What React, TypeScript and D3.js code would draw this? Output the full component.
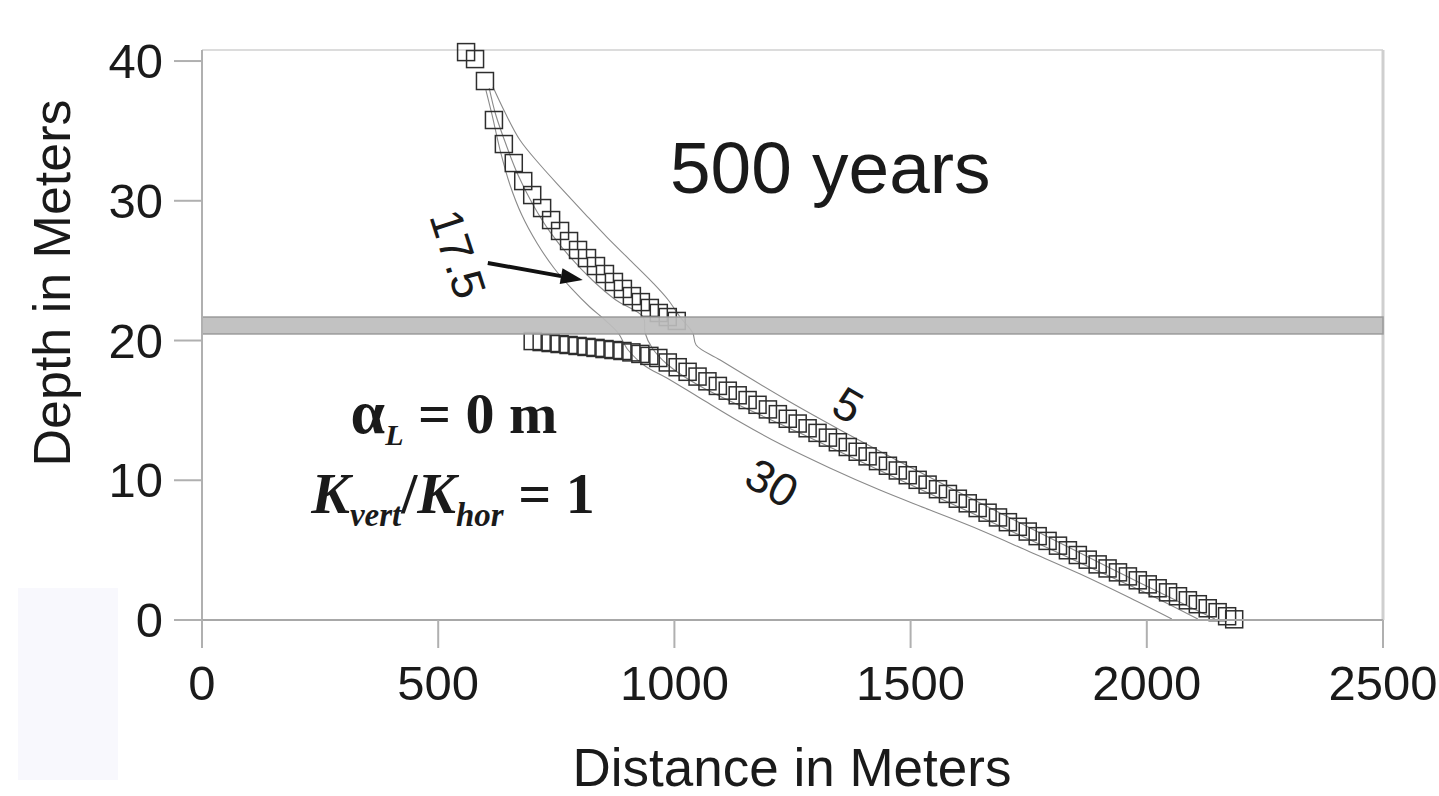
import React from "react";
import * as d3 from "d3";

// ---------- data ----------
const xTicks = [0, 500, 1000, 1500, 2000, 2500];
const yTicks = [0, 10, 20, 30, 40];

// squares above the low-K layer
const upperDistance = [559, 578, 599, 618, 639, 660, 680, 699, 720, 739, 758, 777, 796, 815, 834, 853, 872, 891, 910, 929, 948, 967, 986, 1005];
const upperDepth = [40.64, 40.14, 38.57, 35.78, 34.06, 32.7, 31.41, 30.41, 29.48, 28.62, 27.84, 27.12, 26.48, 25.9, 25.33, 24.76, 24.19, 23.69, 23.18, 22.75, 22.33, 21.97, 21.68, 21.4];

// squares below the layer
const lowerDistance = [700, 719, 738, 757, 776, 795, 814, 833, 852, 871, 890, 909, 928, 947, 966,
  986, 1007, 1028, 1049, 1070, 1092, 1113, 1134, 1155, 1176, 1198, 1219, 1240, 1261, 1282, 1303, 1325, 1346, 1367, 1388, 1409, 1431, 1452, 1473, 1494, 1515, 1536, 1558, 1579, 1600, 1621, 1642, 1663, 1685, 1706, 1727, 1748, 1769, 1790, 1812, 1833, 1854, 1875, 1896, 1917, 1939, 1960, 1981, 2002, 2023, 2045, 2066, 2087, 2108, 2129, 2150, 2170, 2185];
const lowerDepth = [19.96, 19.89, 19.82, 19.75, 19.68, 19.61, 19.54, 19.47, 19.39, 19.32, 19.25, 19.15, 19.04, 18.9, 18.75,
  18.43, 18.09, 17.76, 17.42, 17.08, 16.75, 16.41, 16.08, 15.74, 15.4, 15.07, 14.73, 14.4, 14.06, 13.72, 13.39, 13.05, 12.72, 12.38, 12.04, 11.71, 11.37, 11.04, 10.7, 10.36, 10.03, 9.69, 9.36, 9.02, 8.68, 8.35, 8.01, 7.68, 7.34, 7.0, 6.67, 6.33, 6.0, 5.66, 5.32, 4.99, 4.65, 4.32, 3.98, 3.69, 3.41, 3.12, 2.84, 2.55, 2.27, 1.98, 1.7, 1.41, 1.13, 0.84, 0.56, 0.27, 0.05];

// thin flowlines
const line30Distance = [601, 614, 631, 652, 677, 709, 745, 783, 821, 853, 881, 902, 938, 984, 1054, 1139, 1224, 1329, 1435, 1541, 1647, 1753, 1859, 1965, 2053];
const line30Depth = [37.92, 36.14, 33.63, 31.13, 28.98, 26.98, 25.19, 23.69, 22.4, 21.47, 20.54, 19.32, 18.18, 17.32, 15.89, 14.17, 12.59, 10.88, 9.3, 7.87, 6.44, 4.87, 3.29, 1.57, 0.07];

const lineMidDistance = [608, 622, 644, 669, 701, 737, 779, 826, 876, 934, 938, 953, 984, 1054, 1266, 1478, 1689, 1901, 2007, 2108];
const lineMidDepth = [38.07, 36.14, 33.99, 31.84, 29.7, 27.76, 25.98, 24.33, 22.9, 21.68, 20.54, 19.46, 18.32, 16.74, 13.38, 10.02, 6.73, 3.43, 1.79, 0.07];

const line5Distance = [616, 641, 673, 716, 764, 811, 857, 906, 955, 987, 1012, 1039, 1046, 1097, 1245, 1351, 1478, 1605, 1732, 1859, 1986, 2144];
const line5Depth = [38.14, 36.35, 34.35, 32.56, 30.77, 29.05, 27.4, 25.76, 24.11, 22.9, 21.68, 20.54, 19.68, 18.6, 15.6, 13.6, 11.31, 9.09, 6.94, 4.79, 2.65, 0.07];

const layerDepth = [20.47, 21.68];

export default function App() {
  const W = 1439;
  const H = 796;
  const x = d3.scaleLinear().domain([0, 2500]).range([202, 1383]);
  const y = d3.scaleLinear().domain([0, 40.79]).range([620, 50]);

  const mk = (ds: number[], zs: number[]) => ds.map((d, i) => [d, zs[i]] as [number, number]);
  const lineGen = d3
    .line<[number, number]>()
    .x((p) => x(p[0]))
    .y((p) => y(p[1]))
    .curve(d3.curveCatmullRom.alpha(0.5));

  const flowlines = [
    mk(line30Distance, line30Depth),
    mk(lineMidDistance, lineMidDepth),
    mk(line5Distance, line5Depth),
  ];
  const squares = [...mk(upperDistance, upperDepth), ...mk(lowerDistance, lowerDepth)];
  const S = 17;

  const sans = "'Liberation Sans', Arial, Helvetica, sans-serif";
  const serif = "'Liberation Serif', 'Times New Roman', Times, serif";

  // annotation anchors (data units)
  const arrowFrom: [number, number] = [605, 25.55];
  const arrowTo: [number, number] = [806, 24.33];
  const ax1 = x(arrowFrom[0]), ay1 = y(arrowFrom[1]);
  const ax2 = x(arrowTo[0]), ay2 = y(arrowTo[1]);
  const ang = Math.atan2(ay2 - ay1, ax2 - ax1);
  const hl = 22, hw = 8;
  const bx = ax2 - hl * Math.cos(ang), by = ay2 - hl * Math.sin(ang);
  const head = [
    [ax2, ay2],
    [bx + hw * Math.sin(ang), by - hw * Math.cos(ang)],
    [bx - hw * Math.sin(ang), by + hw * Math.cos(ang)],
  ]
    .map((p) => p.join(","))
    .join(" ");

  return (
    <svg
      width={W}
      height={H}
      viewBox={`0 0 ${W} ${H}`}
      style={{ position: "absolute", left: 0, top: 0, background: "#fff" }}
    >
      <rect x={18} y={588} width={100} height={192} fill="#f8f8fd" />

      {/* frame */}
      <line x1={x(0)} x2={x(2500)} y1={y(40.79)} y2={y(40.79)} stroke="#dcdcdc" strokeWidth={2} />
      <line x1={x(2500)} x2={x(2500)} y1={y(40.79)} y2={y(0)} stroke="#cfcfcf" strokeWidth={3} />

      {/* flowlines */}
      {flowlines.map((pts, i) => (
        <path key={i} d={lineGen(pts) || ""} fill="none" stroke="#8a8a8a" strokeWidth={1.1} />
      ))}

      {/* squares */}
      {squares.map((p, i) => (
        <rect
          key={i}
          x={x(p[0]) - S / 2}
          y={y(p[1]) - S / 2}
          width={S}
          height={S}
          fill="none"
          stroke="#2e2e2e"
          strokeWidth={1.5}
        />
      ))}

      {/* low-K layer */}
      <rect
        x={x(0)}
        y={y(layerDepth[1])}
        width={x(2500) - x(0)}
        height={y(layerDepth[0]) - y(layerDepth[1])}
        fill="#bdbdbd"
        fillOpacity={0.92}
        stroke="#9a9a9a"
        strokeWidth={1.5}
      />

      {/* axes */}
      <line x1={x(0)} x2={x(0)} y1={y(40.79)} y2={y(0) + 28} stroke="#b0b0b0" strokeWidth={2} />
      <line x1={x(0) - 28} x2={x(2500)} y1={y(0)} y2={y(0)} stroke="#a8a8a8" strokeWidth={2} />
      {yTicks.map((t) => (
        <g key={"y" + t}>
          <line x1={x(0) - 28} x2={x(0)} y1={y(t)} y2={y(t)} stroke="#b0b0b0" strokeWidth={2} />
          <text
            x={163}
            y={y(t)}
            textAnchor="end"
            dominantBaseline="central"
            fontFamily={sans}
            fontSize={49}
            fill="#1a1a1a"
          >
            {t}
          </text>
        </g>
      ))}
      {xTicks.map((t) => (
        <g key={"x" + t}>
          <line x1={x(t)} x2={x(t)} y1={y(0)} y2={y(0) + 28} stroke="#b0b0b0" strokeWidth={2} />
          <text x={x(t)} y={700} textAnchor="middle" fontFamily={sans} fontSize={49} fill="#1a1a1a">
            {t}
          </text>
        </g>
      ))}

      <text
        transform="translate(70,283) rotate(-90)"
        textAnchor="middle"
        fontFamily={sans}
        fontSize={52}
        fill="#1a1a1a"
      >
        Depth in Meters
      </text>
      <text x={792} y={786} textAnchor="middle" fontFamily={sans} fontSize={53} fill="#1a1a1a">
        Distance in Meters
      </text>

      <text x={670} y={193} fontFamily={sans} fontSize={73} fill="#1a1a1a">
        500 years
      </text>

      {/* flowline labels */}
      <text
        transform="translate(458,254) rotate(72)"
        textAnchor="middle"
        dominantBaseline="central"
        fontFamily={sans}
        fontSize={46}
        fill="#1a1a1a"
      >
        17.5
      </text>
      <text
        transform="translate(848,405) rotate(30)"
        textAnchor="middle"
        dominantBaseline="central"
        fontFamily={sans}
        fontSize={46}
        fill="#1a1a1a"
      >
        5
      </text>
      <text
        transform="translate(772,483) rotate(30)"
        textAnchor="middle"
        dominantBaseline="central"
        fontFamily={sans}
        fontSize={46}
        fill="#1a1a1a"
      >
        30
      </text>

      {/* arrow */}
      <line x1={ax1} y1={ay1} x2={bx} y2={by} stroke="#111" strokeWidth={4} />
      <polygon points={head} fill="#111" />

      {/* parameters */}
      <text x={454} y={433} textAnchor="middle" fontFamily={serif} fontWeight="bold" fontSize={58} fill="#1a1a1a">
        <tspan fontSize={62}>α</tspan>
        <tspan fontSize={30} fontStyle="italic" dy={12}>L</tspan>
        <tspan dy={-12}> = 0 m</tspan>
      </text>
      <text x={453} y={513} textAnchor="middle" fontFamily={serif} fontWeight="bold" fontSize={58} fill="#1a1a1a">
        <tspan fontStyle="italic">K</tspan>
        <tspan fontSize={33} fontStyle="italic" dy={13}>vert</tspan>
        <tspan dy={-13}>/</tspan>
        <tspan fontStyle="italic">K</tspan>
        <tspan fontSize={33} fontStyle="italic" dy={13}>hor</tspan>
        <tspan dy={-13}> = 1</tspan>
      </text>
    </svg>
  );
}
